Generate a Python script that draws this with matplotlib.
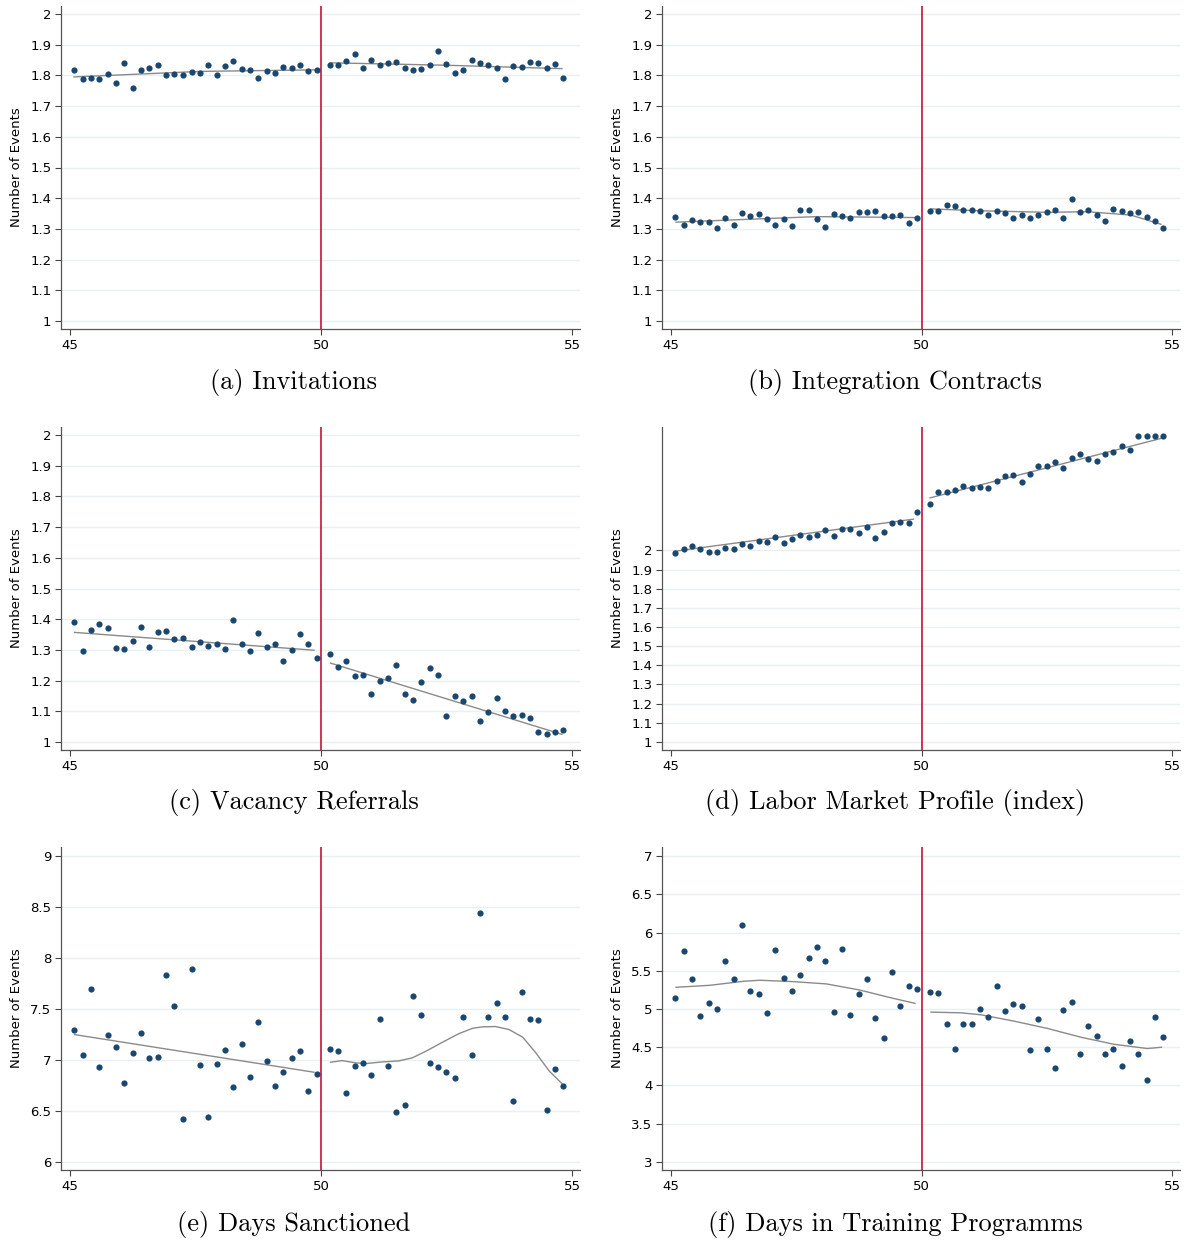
import matplotlib
matplotlib.use("Agg")
import matplotlib.pyplot as plt
import numpy as np

# ---------------- data ----------------
AGE_L = [45.08, 45.25, 45.42, 45.58, 45.75, 45.92, 46.08, 46.25, 46.42, 46.58,
         46.75, 46.92, 47.08, 47.25, 47.42, 47.58, 47.75, 47.92, 48.08, 48.25,
         48.42, 48.58, 48.75, 48.92, 49.08, 49.25, 49.42, 49.58, 49.75, 49.92]
AGE_R = [50.17, 50.33, 50.50, 50.67, 50.83, 51.00, 51.17, 51.33, 51.50, 51.67,
         51.83, 52.00, 52.17, 52.33, 52.50, 52.67, 52.83, 53.00, 53.17, 53.33,
         53.50, 53.67, 53.83, 54.00, 54.17, 54.33, 54.50, 54.67, 54.83]

# (a) Invitations
inv_L = [1.817, 1.788, 1.792, 1.788, 1.803, 1.776, 1.839, 1.759, 1.817, 1.823,
         1.835, 1.801, 1.804, 1.800, 1.811, 1.808, 1.835, 1.800, 1.832, 1.848,
         1.821, 1.816, 1.793, 1.813, 1.809, 1.828, 1.823, 1.834, 1.815, 1.816]
inv_R = [1.833, 1.833, 1.848, 1.870, 1.825, 1.849, 1.833, 1.839, 1.842, 1.824,
         1.816, 1.820, 1.834, 1.878, 1.836, 1.807, 1.817, 1.849, 1.840, 1.834,
         1.823, 1.787, 1.830, 1.828, 1.843, 1.841, 1.825, 1.836, 1.793]
inv_fit_Lx = [45.08, 47.6, 49.88]
inv_fit_Ly = [1.795, 1.813, 1.818]
inv_fit_Rx = [50.19, 52.5, 54.80]
inv_fit_Ry = [1.841, 1.833, 1.822]

# (b) Integration Contracts
int_L = [1.338, 1.313, 1.329, 1.321, 1.322, 1.303, 1.334, 1.314, 1.351, 1.342,
         1.349, 1.333, 1.314, 1.331, 1.309, 1.363, 1.363, 1.333, 1.307, 1.349,
         1.342, 1.335, 1.356, 1.354, 1.358, 1.343, 1.343, 1.345, 1.320, 1.336]
int_R = [1.359, 1.359, 1.377, 1.373, 1.362, 1.362, 1.357, 1.346, 1.358, 1.352,
         1.335, 1.345, 1.336, 1.346, 1.356, 1.363, 1.335, 1.396, 1.356, 1.363,
         1.345, 1.326, 1.364, 1.357, 1.351, 1.356, 1.338, 1.326, 1.303]
int_fit_Lx = [45.10, 47.90, 49.87]
int_fit_Ly = [1.322, 1.340, 1.337]
int_fit_Rx = [50.19, 51.19, 52.52, 53.31, 54.18, 54.78]
int_fit_Ry = [1.365, 1.359, 1.354, 1.356, 1.345, 1.315]

# (c) Vacancy Referrals
vac_L = [1.391, 1.297, 1.365, 1.386, 1.371, 1.307, 1.302, 1.328, 1.375, 1.311,
         1.358, 1.360, 1.337, 1.339, 1.310, 1.326, 1.312, 1.318, 1.303, 1.399,
         1.320, 1.298, 1.355, 1.309, 1.318, 1.263, 1.301, 1.352, 1.318, 1.275]
vac_R = [1.286, 1.243, 1.264, 1.216, 1.217, 1.158, 1.198, 1.207, 1.251, 1.155,
         1.137, 1.197, 1.240, 1.217, 1.085, 1.149, 1.133, 1.150, 1.068, 1.097,
         1.144, 1.101, 1.086, 1.088, 1.077, 1.034, 1.025, 1.033, 1.038]
vac_fit_Lx = [45.09, 49.86]
vac_fit_Ly = [1.357, 1.299]
vac_fit_Rx = [50.19, 54.80]
vac_fit_Ry = [1.257, 1.025]

# (d) Labor Market Profile (index)
lmp_L = [1.988, 2.007, 2.023, 2.005, 1.993, 1.993, 2.010, 2.005, 2.033, 2.021,
         2.049, 2.045, 2.069, 2.036, 2.057, 2.078, 2.069, 2.082, 2.104, 2.076,
         2.113, 2.113, 2.090, 2.122, 2.064, 2.095, 2.144, 2.149, 2.142, 2.198]
lmp_R = [2.240, 2.306, 2.304, 2.313, 2.335, 2.327, 2.332, 2.327, 2.363, 2.386,
         2.393, 2.356, 2.401, 2.439, 2.438, 2.460, 2.432, 2.481, 2.502, 2.479,
         2.469, 2.502, 2.516, 2.547, 2.524, 2.597, 2.597, 2.596, 2.599]
lmp_fit_Lx = [45.06, 49.84]
lmp_fit_Ly = [1.995, 2.163]
lmp_fit_Rx = [50.17, 54.79]
lmp_fit_Ry = [2.274, 2.585]

# (e) Days Sanctioned
san_L = [7.297, 7.046, 7.696, 6.931, 7.248, 7.127, 6.778, 7.065, 7.268, 7.020,
         7.026, 7.830, 7.529, 6.422, 7.895, 6.954, 6.435, 6.958, 7.095, 6.735,
         7.154, 6.833, 7.373, 6.993, 6.742, 6.882, 7.016, 7.085, 6.690, 6.863]
san_R = [7.111, 7.085, 6.676, 6.938, 6.971, 6.856, 7.399, 6.941, 6.487, 6.559,
         7.624, 7.444, 6.971, 6.928, 6.882, 6.820, 7.418, 7.052, 8.444, 7.422,
         7.559, 7.418, 6.598, 7.670, 7.399, 7.395, 6.507, 6.915, 6.745]
san_fit_Lx = [45.09, 49.86]
san_fit_Ly = [7.248, 6.879]
san_fit_Rx = [50.19, 50.42, 50.69, 50.89, 51.22, 51.55, 51.82, 52.09, 52.42,
              52.75, 53.02, 53.22, 53.48, 53.75, 54.02, 54.28, 54.55, 54.80]
san_fit_Ry = [6.977, 6.993, 6.971, 6.964, 6.980, 6.990, 7.020, 7.085, 7.173,
              7.258, 7.310, 7.324, 7.327, 7.297, 7.222, 7.069, 6.889, 6.768]

# (f) Days in Training Programms
trn_L = [5.148, 5.755, 5.397, 4.913, 5.074, 4.996, 5.624, 5.397, 6.092, 5.240,
         5.192, 4.948, 5.769, 5.406, 5.231, 5.445, 5.668, 5.812, 5.624, 4.961,
         5.786, 4.921, 5.197, 5.397, 4.886, 4.616, 5.480, 5.044, 5.301, 5.258]
trn_R = [5.225, 5.207, 4.806, 4.478, 4.810, 4.806, 4.998, 4.893, 5.299, 4.972,
         5.063, 5.037, 4.465, 4.867, 4.483, 4.225, 4.985, 5.085, 4.413, 4.779,
         4.653, 4.413, 4.478, 4.255, 4.579, 4.417, 4.068, 4.893, 4.635]
trn_fit_Lx = [45.10, 45.78, 46.44, 46.77, 47.44, 48.10, 48.76, 49.43, 49.87]
trn_fit_Ly = [5.284, 5.310, 5.362, 5.376, 5.358, 5.328, 5.249, 5.140, 5.074]
trn_fit_Rx = [50.19, 50.79, 51.19, 51.85, 52.52, 53.18, 53.84, 54.51, 54.79]
trn_fit_Ry = [4.959, 4.950, 4.924, 4.841, 4.745, 4.631, 4.539, 4.483, 4.500]

CAPTIONS = ["(a) Invitations", "(b) Integration Contracts", "(c) Vacancy Referrals",
            "(d) Labor Market Profile (index)", "(e) Days Sanctioned",
            "(f) Days in Training Programms"]
YLABEL = "Number of Events"
XTICKS = [45, 50, 55]
TICKS_1_2 = [1, 1.1, 1.2, 1.3, 1.4, 1.5, 1.6, 1.7, 1.8, 1.9, 2]
TICKS_E = [6, 6.5, 7, 7.5, 8, 8.5, 9]
TICKS_F = [3, 3.5, 4, 4.5, 5, 5.5, 6, 6.5, 7]
CUTOFF = 50

# ---------------- style ----------------
NAVY = "#1a476f"
RED = "#c8103a"
FITC = "#8a8a8a"
GRID = "#e9f0f2"

panels = [
    (inv_L, inv_R, inv_fit_Lx, inv_fit_Ly, inv_fit_Rx, inv_fit_Ry, TICKS_1_2, (0.974, 2.026)),
    (int_L, int_R, int_fit_Lx, int_fit_Ly, int_fit_Rx, int_fit_Ry, TICKS_1_2, (0.974, 2.026)),
    (vac_L, vac_R, vac_fit_Lx, vac_fit_Ly, vac_fit_Rx, vac_fit_Ry, TICKS_1_2, (0.974, 2.026)),
    (lmp_L, lmp_R, lmp_fit_Lx, lmp_fit_Ly, lmp_fit_Rx, lmp_fit_Ry, TICKS_1_2, (0.958, 2.644)),
    (san_L, san_R, san_fit_Lx, san_fit_Ly, san_fit_Rx, san_fit_Ry, TICKS_E, (5.92, 9.088)),
    (trn_L, trn_R, trn_fit_Lx, trn_fit_Ly, trn_fit_Rx, trn_fit_Ry, TICKS_F, (2.895, 7.118)),
]

W, H = 1187, 1242
fig = plt.figure(figsize=(W / 100, H / 100), dpi=100)

col_left = [61, 662]
col_right = [580, 1180]
row_top = [6, 427, 847]
row_bot = [329, 750, 1170]
cap_x = [294, 895]
cap_y = [382, 803, 1224]

for i, (yl, yr, fxl, fyl, fxr, fyr, yt, ylim) in enumerate(panels):
    r, c = divmod(i, 2)
    l = col_left[c] / W
    w = (col_right[c] - col_left[c]) / W
    b = 1 - row_bot[r] / H
    h = (row_bot[r] - row_top[r]) / H
    ax = fig.add_axes([l, b, w, h])
    for yv in yt:
        ax.axhline(yv, color=GRID, lw=1.0, zorder=0)
    ax.axvline(CUTOFF, color=RED, lw=1.2, zorder=1)
    ax.plot(fxl, fyl, color=FITC, lw=1.0, zorder=2)
    ax.plot(fxr, fyr, color=FITC, lw=1.0, zorder=2)
    ax.scatter(AGE_L, yl, s=20, color=NAVY, zorder=3, linewidths=0)
    ax.scatter(AGE_R, yr, s=20, color=NAVY, zorder=3, linewidths=0)
    ax.set_xlim(44.82, 55.16)
    ax.set_ylim(*ylim)
    ax.set_xticks(XTICKS)
    ax.set_xticklabels([str(t) for t in XTICKS])
    ax.set_yticks(yt)
    ax.set_yticklabels([f"{t:g}" for t in yt])
    ax.tick_params(axis="both", direction="out", length=4, width=0.8,
                   labelsize=9.5, color="#444444", pad=3)
    for s in ["top", "right"]:
        ax.spines[s].set_visible(False)
    for s in ["left", "bottom"]:
        ax.spines[s].set_color("#555555")
        ax.spines[s].set_linewidth(0.9)
    ax.set_ylabel(YLABEL, fontsize=9.5)
    ax.yaxis.set_label_coords(-0.073, 0.5)
    fig.text(cap_x[c] / W, 1 - cap_y[r] / H, CAPTIONS[i], family="cmr10",
             fontsize=19, ha="center", va="center")

fig.savefig("out.png", dpi=100)
